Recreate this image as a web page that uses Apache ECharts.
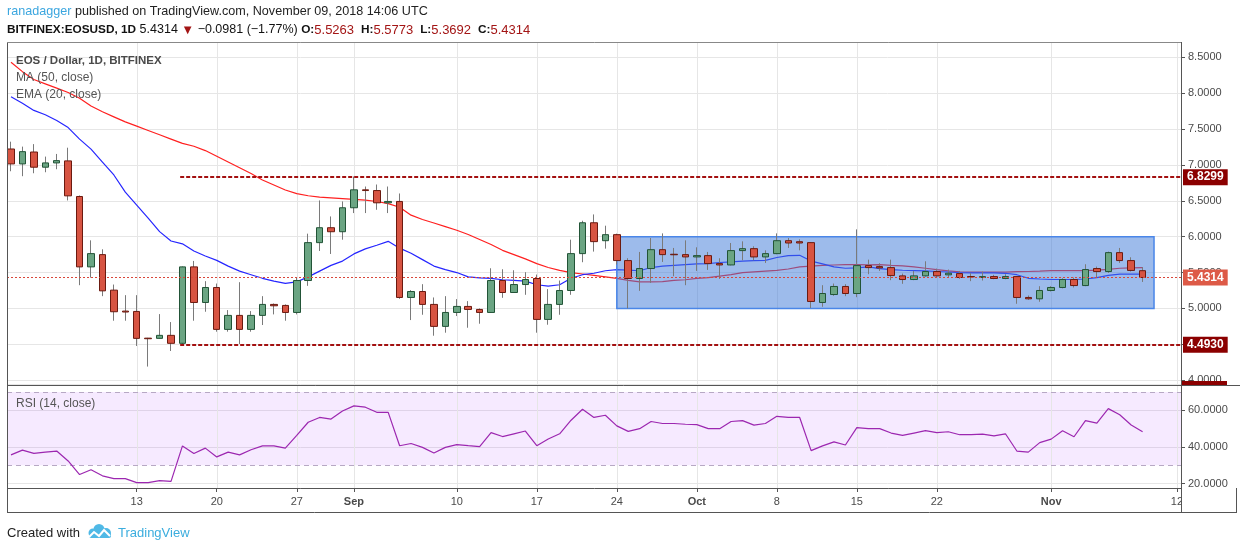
<!DOCTYPE html>
<html><head><meta charset="utf-8">
<script src="https://cdn.jsdelivr.net/npm/echarts@6/dist/echarts.min.js"></script>
<style>html,body{margin:0;padding:0;background:#fff}#c{width:1240px;height:550px}</style>
</head><body><div id="c"></div>
<script>
const dates = [
'2018-08-02','2018-08-03','2018-08-04','2018-08-05','2018-08-06','2018-08-07','2018-08-08','2018-08-09','2018-08-10','2018-08-11',
'2018-08-12','2018-08-13','2018-08-14','2018-08-15','2018-08-16','2018-08-17','2018-08-18','2018-08-19','2018-08-20','2018-08-21',
'2018-08-22','2018-08-23','2018-08-24','2018-08-25','2018-08-26','2018-08-27','2018-08-28','2018-08-29','2018-08-30','2018-08-31',
'2018-09-01','2018-09-02','2018-09-03','2018-09-04','2018-09-05','2018-09-06','2018-09-07','2018-09-08','2018-09-09','2018-09-10',
'2018-09-11','2018-09-12','2018-09-13','2018-09-14','2018-09-15','2018-09-16','2018-09-17','2018-09-18','2018-09-19','2018-09-20',
'2018-09-21','2018-09-22','2018-09-23','2018-09-24','2018-09-25','2018-09-26','2018-09-27','2018-09-28','2018-09-29','2018-09-30',
'2018-10-01','2018-10-02','2018-10-03','2018-10-04','2018-10-05','2018-10-06','2018-10-07','2018-10-08','2018-10-09','2018-10-10',
'2018-10-11','2018-10-12','2018-10-13','2018-10-14','2018-10-15','2018-10-16','2018-10-17','2018-10-18','2018-10-19','2018-10-20',
'2018-10-21','2018-10-22','2018-10-23','2018-10-24','2018-10-25','2018-10-26','2018-10-27','2018-10-28','2018-10-29','2018-10-30',
'2018-10-31','2018-11-01','2018-11-02','2018-11-03','2018-11-04','2018-11-05','2018-11-06','2018-11-07','2018-11-08','2018-11-09'];

const open = [
7.222,7.014,7.180,6.968,7.028,7.056,6.560,5.579,5.750,5.255,
4.963,4.958,4.586,4.583,4.625,4.514,5.579,5.083,5.292,4.708,
4.903,4.708,4.903,5.056,5.042,4.944,5.389,5.917,6.125,6.069,
6.403,6.653,6.643,6.472,6.491,5.153,5.236,5.056,4.750,4.944,
5.028,4.986,4.944,5.389,5.222,5.333,5.417,4.847,5.056,5.250,
5.764,6.194,5.944,6.028,5.667,5.417,5.556,5.819,5.755,5.750,
5.718,5.736,5.625,5.606,5.806,5.833,5.718,5.764,5.944,5.930,
5.917,5.083,5.194,5.306,5.208,5.597,5.583,5.569,5.454,5.403,
5.454,5.514,5.468,5.486,5.445,5.431,5.444,5.417,5.444,5.153,
5.134,5.250,5.292,5.403,5.319,5.556,5.514,5.778,5.667,5.5263];
const high = [
7.324,7.255,7.290,7.116,7.153,7.240,6.574,5.949,5.824,5.333,
5.185,5.185,4.590,4.921,4.810,5.585,5.662,5.380,5.347,4.977,
5.366,4.963,5.171,5.069,5.056,5.430,6.042,6.505,6.282,6.491,
6.838,6.699,6.727,6.699,6.602,5.255,5.338,5.153,5.171,5.130,
5.102,5.000,5.560,5.546,5.532,5.505,5.472,5.269,5.389,5.958,
6.222,6.310,6.153,6.042,5.700,5.787,5.981,6.046,5.843,5.949,
5.852,5.787,5.699,5.912,5.935,5.866,5.810,6.046,5.981,5.963,
5.920,5.324,5.347,5.338,6.102,5.680,5.630,5.680,5.486,5.523,
5.657,5.556,5.542,5.523,5.491,5.514,5.468,5.477,5.452,5.180,
5.310,5.310,5.421,5.430,5.616,5.583,5.792,5.843,5.713,5.5773];
const low = [
6.912,6.843,6.884,6.898,6.940,6.505,5.324,5.430,5.171,4.829,
4.829,4.477,4.190,4.580,4.407,4.505,4.829,4.954,4.676,4.676,
4.505,4.676,4.769,4.917,4.829,4.917,5.315,5.801,5.759,5.958,
6.329,6.329,6.375,6.329,5.134,4.838,4.912,4.620,4.662,4.894,
4.731,4.787,4.940,5.148,5.222,5.190,4.662,4.773,4.912,5.190,
5.644,5.792,5.833,5.611,5.000,5.245,5.356,5.648,5.449,5.324,
5.523,5.537,5.412,5.600,5.671,5.671,5.634,5.755,5.843,5.810,
5.005,5.023,5.176,5.171,5.157,5.477,5.523,5.394,5.343,5.394,
5.444,5.440,5.430,5.412,5.380,5.389,5.407,5.407,5.065,5.120,
5.093,5.236,5.280,5.292,5.310,5.431,5.495,5.634,5.514,5.3692];
const close = [
7.014,7.185,6.968,7.028,7.060,6.569,5.579,5.764,5.245,4.954,
4.950,4.583,4.578,4.625,4.514,5.579,5.083,5.292,4.708,4.903,
4.708,4.903,5.056,5.037,4.944,5.389,5.917,6.125,6.069,6.403,
6.653,6.643,6.472,6.491,5.153,5.236,5.056,4.750,4.944,5.028,
4.986,4.944,5.389,5.222,5.333,5.403,4.847,5.056,5.250,5.764,
6.194,5.931,6.028,5.667,5.417,5.556,5.819,5.750,5.748,5.718,
5.736,5.625,5.606,5.806,5.833,5.718,5.764,5.944,5.912,5.912,
5.097,5.208,5.306,5.208,5.597,5.569,5.565,5.458,5.403,5.454,
5.514,5.454,5.491,5.431,5.440,5.444,5.417,5.444,5.153,5.134,
5.250,5.292,5.403,5.319,5.542,5.514,5.778,5.667,5.5295,5.4314];

const ma50 = [
8.43,8.30,8.19,8.13,8.07,8.01,7.93,7.82,7.74,7.67,
7.60,7.54,7.48,7.42,7.36,7.30,7.26,7.20,7.12,7.04,
6.96,6.88,6.79,6.72,6.65,6.60,6.57,6.55,6.54,6.53,
6.52,6.51,6.49,6.46,6.41,6.30,6.24,6.19,6.14,6.09,
6.03,5.96,5.89,5.81,5.75,5.69,5.625,5.57,5.53,5.50,
5.48,5.46,5.44,5.42,5.39,5.37,5.37,5.375,5.39,5.40,
5.42,5.43,5.45,5.47,5.50,5.51,5.52,5.53,5.55,5.58,
5.59,5.60,5.605,5.61,5.61,5.607,5.61,5.60,5.593,5.58,
5.56,5.54,5.523,5.51,5.505,5.505,5.505,5.507,5.512,5.515,
5.52,5.526,5.528,5.528,5.528,5.535,5.545,5.56,5.565,5.569];
const ema20 = [
7.95,7.86,7.76,7.70,7.62,7.52,7.36,7.22,7.04,6.86,
6.62,6.44,6.26,6.07,5.94,5.90,5.80,5.73,5.67,5.59,
5.52,5.47,5.42,5.38,5.35,5.37,5.44,5.52,5.60,5.66,
5.76,5.83,5.88,5.935,5.84,5.77,5.68,5.59,5.54,5.50,
5.44,5.426,5.42,5.40,5.39,5.38,5.33,5.31,5.33,5.42,
5.47,5.49,5.525,5.54,5.535,5.525,5.57,5.59,5.60,5.61,
5.62,5.625,5.64,5.65,5.66,5.665,5.67,5.71,5.735,5.74,
5.66,5.62,5.58,5.56,5.565,5.578,5.556,5.54,5.532,5.528,
5.523,5.515,5.508,5.497,5.495,5.495,5.495,5.49,5.47,5.42,
5.41,5.403,5.403,5.403,5.41,5.43,5.46,5.477,5.477,5.477];
const rsi14 = [
35.7,38.3,36.5,37.2,37.8,32.4,25.0,27.6,24.3,22.8,
22.8,20.6,20.6,21.7,21.3,40.6,36.5,39.4,34.6,37.2,
35.7,38.5,40.6,40.6,39.4,46.3,53.5,56.1,55.2,59.6,
62.4,61.7,58.9,58.9,40.7,41.9,39.8,36.7,39.8,41.3,
40.7,40.2,47.8,45.7,47.2,48.7,40.7,44.4,47.2,54.6,
60.6,56.1,57.3,51.5,48.5,50.0,53.9,52.8,52.8,52.4,
52.2,50.0,50.0,53.9,54.4,51.9,52.8,56.7,56.1,56.1,
38.0,40.6,42.8,41.1,50.6,50.0,50.0,47.6,46.3,47.6,
48.9,47.8,48.3,46.7,46.7,47.0,46.1,47.2,37.8,37.2,
42.4,44.3,48.9,45.6,54.4,53.0,60.9,57.6,52.0,48.3];

const tickDates = ['2018-08-13','2018-08-20','2018-08-27','2018-09-01','2018-09-10','2018-09-17','2018-09-24','2018-10-01','2018-10-08','2018-10-15','2018-10-22','2018-11-01','2018-11-12'];
const tickLabels = ['13','20','27','Sep','10','17','24','Oct','8','15','22','Nov','12'];
const monthLabels = ['Sep','Oct','Nov'];
const levelLines = [6.8299, 4.4930];
const levelStartDate = '2018-08-17';
const rangeBox = ['2018-09-24', '2018-11-10', 6.0, 5.0];
const rsiBand = [70, 30];

const FONT = '"Liberation Sans", Arial, sans-serif';
const dayIdx = d => Math.round((Date.parse(d) - Date.parse(dates[0])) / 86400000);
const n = dates.length;
const xMin = -0.35, xMax = 102.36;
const tickIdx = tickDates.map(dayIdx);
const labelMap = {};
tickIdx.forEach((t, i) => labelMap[t] = tickLabels[i]);

const wickData = dates.map((d, i) => [i, open[i], close[i], low[i], high[i]]);
const bodyData = dates.map((d, i) => [i, open[i], close[i], Math.min(open[i], close[i]), Math.max(open[i], close[i])]);
const last = close[n - 1];
const chg = last - close[n - 2];
const pct = chg / close[n - 2] * 100;
const fmtSigned = v => (v < 0 ? '\u2212' : '+') + Math.abs(v).toFixed(4);

function vLines(params, api) {
  const x = Math.round(api.coord([api.value(0), 0])[0]) + 0.5;
  const cs = params.coordSys;
  return {type: 'line', shape: {x1: x, y1: cs.y, x2: x, y2: cs.y + cs.height}, style: {stroke: '#e6e6e6', lineWidth: 1}};
}
function boxRender(style) {
  return function (params, api) {
    const p1 = api.coord([api.value(0), api.value(2)]);
    const p2 = api.coord([api.value(1), api.value(3)]);
    return {type: 'rect', shape: {x: p1[0], y: p1[1], width: p2[0] - p1[0], height: p2[1] - p1[1]}, style: style};
  };
}

const chart = echarts.init(document.getElementById('c'), null, {renderer: 'canvas'});
const lvlStart = dayIdx(levelStartDate) - 0.2;

const yAxisCommon = {
  type: 'value', position: 'right',
  axisLine: {show: false, onZero: false},
  axisTick: {show: true, length: 4, lineStyle: {color: '#555'}},
  axisLabel: {showMinLabel: false, showMaxLabel: false, margin: 7, color: '#4a4a4a', fontSize: 11, fontFamily: FONT, formatter: v => v.toFixed(4)},
  splitLine: {show: true, lineStyle: {color: '#e6e6e6', width: 1}}
};

const option = {
  animation: false,
  backgroundColor: '#ffffff',
  textStyle: {fontFamily: FONT},
  grid: [
    {left: 7, right: 59, top: 42, height: 342, outerBoundsMode: 'none', containLabel: false},
    {left: 7, right: 59, top: 385, height: 103, outerBoundsMode: 'none', containLabel: false}
  ],
  xAxis: [
    {type: 'value', gridIndex: 0, min: xMin, max: xMax, show: false},
    {type: 'value', gridIndex: 1, min: xMin, max: xMax,
      axisLine: {show: false, onZero: false}, splitLine: {show: false},
      axisTick: {show: true, customValues: tickIdx, length: 4, lineStyle: {color: '#555'}},
      axisLabel: {customValues: tickIdx, margin: 8, color: '#4a4a4a', fontSize: 11, fontFamily: FONT,
        formatter: v => { const l = labelMap[Math.round(v)] || ''; return monthLabels.indexOf(l) >= 0 ? '{m|' + l + '}' : l; },
        rich: {m: {fontWeight: 'bold', fontSize: 11, color: '#4a4a4a', fontFamily: FONT}}}
    }
  ],
  yAxis: [
    Object.assign({}, yAxisCommon, {gridIndex: 0, min: 3.947, max: 8.713, splitNumber: 9}),
    Object.assign({}, yAxisCommon, {gridIndex: 1, min: 17.66, max: 73.79, splitNumber: 3})
  ],
  series: [
    {type: 'custom', name: 'vgrid', xAxisIndex: 0, yAxisIndex: 0, data: tickIdx.map(t => [t]), renderItem: vLines, z: 1, silent: true, clip: false},
    {type: 'custom', name: 'rsiBand', xAxisIndex: 1, yAxisIndex: 1, data: [[xMin, xMax, rsiBand[0], rsiBand[1]]],
      renderItem: boxRender({fill: 'rgba(170,60,255,0.11)'}), z: 1, silent: true},
    {type: 'custom', name: 'vgrid2', xAxisIndex: 1, yAxisIndex: 1, data: tickIdx.map(t => [t]), renderItem: vLines, z: 1, silent: true, clip: false},
    {type: 'line', name: 'MA (50, close)', xAxisIndex: 0, yAxisIndex: 0, data: ma50.map((v, i) => [i, v]),
      showSymbol: false, symbol: 'none', lineStyle: {color: '#ff2020', width: 1.2}, z: 2, silent: true},
    {type: 'line', name: 'EMA (20, close)', xAxisIndex: 0, yAxisIndex: 0, data: ema20.map((v, i) => [i, v]),
      showSymbol: false, symbol: 'none', lineStyle: {color: '#2626ff', width: 1.2}, z: 2, silent: true},
    {type: 'custom', name: 'range', xAxisIndex: 0, yAxisIndex: 0,
      data: [[dayIdx(rangeBox[0]), dayIdx(rangeBox[1]), rangeBox[2], rangeBox[3]]],
      renderItem: boxRender({fill: 'rgba(60,120,216,0.5)', stroke: '#4a86e8', lineWidth: 1.5}), z: 3, silent: true},
    {type: 'candlestick', name: 'wicks', xAxisIndex: 0, yAxisIndex: 0, data: wickData, encode: {x: 0, y: [1, 2, 3, 4]},
      barWidth: 1, itemStyle: {color: '#7a7a7a', color0: '#7a7a7a', borderColor: '#7a7a7a', borderColor0: '#7a7a7a', borderWidth: 1}, z: 4, silent: true},
    {type: 'candlestick', name: 'EOSUSD', xAxisIndex: 0, yAxisIndex: 0, data: bodyData, encode: {x: 0, y: [1, 2, 3, 4]},
      barWidth: 7, itemStyle: {color: '#6ba583', color0: '#d75442', borderColor: '#225437', borderColor0: '#6b1a10', borderWidth: 1}, z: 5, silent: true,
      markLine: {z: 6, silent: true, symbol: ['none', 'none'],
        data: levelLines.map(v => [
          {coord: [lvlStart, v], lineStyle: {color: '#a31010', width: 2, type: [4, 2]},
            label: {show: true, position: 'end', distance: 2, formatter: () => v.toFixed(4), backgroundColor: '#8b0000', color: '#fff', fontWeight: 'bold', fontSize: 12, fontFamily: FONT, padding: [2, 4, 2, 4]}},
          {coord: [xMax, v]}
        ]).concat([[
          {coord: [xMin, last], lineStyle: {color: '#d9473a', width: 1, type: [2, 2]},
            label: {show: true, position: 'end', distance: 2, formatter: () => last.toFixed(4), backgroundColor: '#dd5a47', color: '#fff', fontWeight: 'bold', fontSize: 12, fontFamily: FONT, padding: [2, 4, 2, 4]}},
          {coord: [xMax, last]}
        ]])
      }},
    {type: 'line', name: 'RSI (14, close)', xAxisIndex: 1, yAxisIndex: 1, data: rsi14.map((v, i) => [i, v]),
      showSymbol: false, symbol: 'none', lineStyle: {color: '#9c27b0', width: 1.2}, z: 4, silent: true,
      markLine: {z: 3, silent: true, symbol: ['none', 'none'], label: {show: false},
        lineStyle: {color: '#b7a8c4', width: 1, type: [5, 4]},
        data: rsiBand.map(v => [{coord: [xMin, v]}, {coord: [xMax, v]}])}}
  ],
  graphic: [
    {type: 'text', x: 7, y: 12, z: 100, style: {text: '{u|ranadagger} published on TradingView.com, November 09, 2018 14:06 UTC',
      font: '12.6px ' + FONT, fill: '#222', verticalAlign: 'middle', rich: {u: {fill: '#3ba6df', font: '12.6px ' + FONT}}}},
    {type: 'text', x: 7, y: 30, z: 100, style: {
      text: '{b|BITFINEX:EOSUSD, 1D} ' + last.toFixed(4) + ' {r|\u25BC} ' + fmtSigned(chg) + ' (' + (pct < 0 ? '\u2212' : '+') + Math.abs(pct).toFixed(2) + '%) {b|O:}{r|' + open[n-1].toFixed(4) + '}  {b|H:}{r|' + high[n-1].toFixed(4) + '}  {b|L:}{r|' + low[n-1].toFixed(4) + '}  {b|C:}{r|' + close[n-1].toFixed(4) + '}',
      font: '12.5px ' + FONT, fill: '#111', verticalAlign: 'middle',
      rich: {b: {font: 'bold 11.8px ' + FONT, fill: '#111'}, r: {font: '13px ' + FONT, fill: '#a31515'}}}},
    {type: 'text', x: 16, y: 61, z: 100, style: {text: 'EOS / Dollar, 1D, BITFINEX', font: 'bold 11.5px ' + FONT, fill: '#4a4a4a', verticalAlign: 'middle'}},
    {type: 'text', x: 16, y: 78, z: 100, style: {text: 'MA (50, close)', font: '12px ' + FONT, fill: '#555', verticalAlign: 'middle'}},
    {type: 'text', x: 16, y: 95, z: 100, style: {text: 'EMA (20, close)', font: '12px ' + FONT, fill: '#555', verticalAlign: 'middle'}},
    {type: 'text', x: 16, y: 404, z: 100, style: {text: 'RSI (14, close)', font: '12px ' + FONT, fill: '#555', verticalAlign: 'middle'}},
    {type: 'rect', z: 90, shape: {x: 1182, y: 489, width: 54, height: 23}, style: {fill: '#fff'}},
    {type: 'rect', z: 90, shape: {x: 1182, y: 386, width: 58, height: 5}, style: {fill: '#fff'}},
    {type: 'rect', z: 91, shape: {x: 1182, y: 381, width: 45, height: 4}, style: {fill: '#8b0000'}},
    {type: 'line', z: 95, shape: {x1: 7.5, y1: 42, x2: 7.5, y2: 513}, style: {stroke: '#555', lineWidth: 1}},
    {type: 'line', z: 95, shape: {x1: 7, y1: 42.5, x2: 1182, y2: 42.5}, style: {stroke: '#888', lineWidth: 1}},
    {type: 'line', z: 95, shape: {x1: 1181.5, y1: 42, x2: 1181.5, y2: 513}, style: {stroke: '#555', lineWidth: 1}},
    {type: 'line', z: 95, shape: {x1: 7, y1: 385.5, x2: 1240, y2: 385.5}, style: {stroke: '#555', lineWidth: 1}},
    {type: 'line', z: 95, shape: {x1: 7, y1: 488.5, x2: 1182, y2: 488.5}, style: {stroke: '#555', lineWidth: 1}},
    {type: 'line', z: 95, shape: {x1: 7, y1: 512.5, x2: 1237, y2: 512.5}, style: {stroke: '#555', lineWidth: 1}},
    {type: 'line', z: 95, shape: {x1: 1236.5, y1: 488, x2: 1236.5, y2: 513}, style: {stroke: '#555', lineWidth: 1}},
    {type: 'text', x: 7, y: 533, z: 100, style: {text: 'Created with', font: '13px ' + FONT, fill: '#222', verticalAlign: 'middle'}},
    {type: 'circle', z: 100, shape: {cx: 93, cy: 533, r: 4.5}, style: {fill: '#4fb9e6'}},
    {type: 'circle', z: 100, shape: {cx: 99, cy: 529.5, r: 5.5}, style: {fill: '#4fb9e6'}},
    {type: 'circle', z: 100, shape: {cx: 106, cy: 533, r: 5}, style: {fill: '#4fb9e6'}},
    {type: 'rect', z: 100, shape: {x: 89, y: 533, width: 22, height: 5, r: 2}, style: {fill: '#4fb9e6'}},
    {type: 'polyline', z: 101, shape: {points: [[89, 537], [94, 532], [99, 536], [104, 530], [110, 536]]}, style: {stroke: '#fff', lineWidth: 2, fill: null}},
    {type: 'text', x: 118, y: 533, z: 100, style: {text: 'TradingView', font: '13px ' + FONT, fill: '#3badde', verticalAlign: 'middle'}}
  ]
};
chart.setOption(option);
</script>
</body></html>
